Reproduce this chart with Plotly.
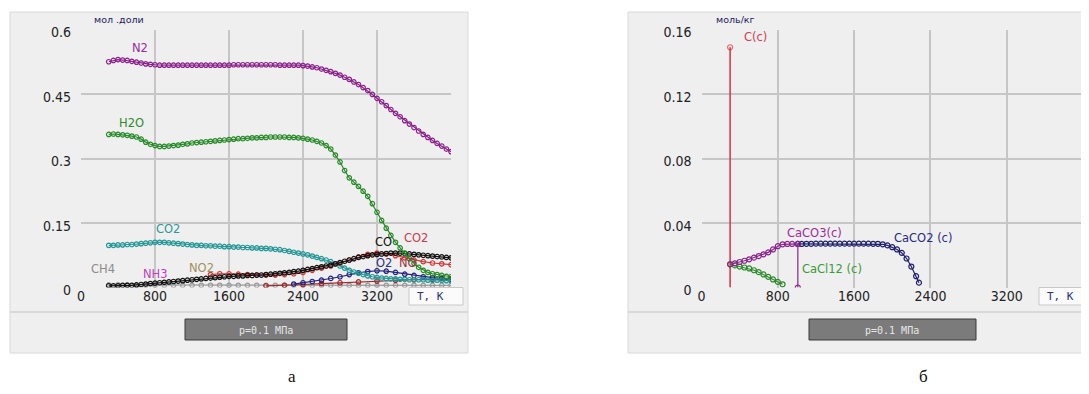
import plotly.graph_objects as go

W, H = 1089, 394
# the page body adds an 8px offset; layout coordinates below are given in
# screen pixels and converted with this offset
OX, OY = 8, 8

# ---------------- data: left chart (mole fractions) ----------------
T_fine = [300, 350, 400, 450, 500, 550, 600, 650, 700, 750, 800, 850, 900, 950, 1000,
          1050, 1100, 1150, 1200, 1250, 1300, 1350, 1400, 1450, 1500, 1550, 1600, 1650,
          1700, 1750, 1800, 1850, 1900, 1950, 2000, 2050, 2100, 2150, 2200, 2250, 2300,
          2350, 2400, 2450, 2500, 2550, 2600, 2650, 2700, 2750, 2800, 2850, 2900, 2950,
          3000, 3050, 3100, 3150, 3200, 3250, 3300, 3350, 3400, 3450, 3500, 3550, 3600,
          3650, 3700, 3750, 3800, 3850, 3900, 3950, 4000]

N2 = [0.525, 0.528, 0.530, 0.529, 0.528, 0.526, 0.524, 0.522, 0.520, 0.519, 0.518, 0.517,
      0.517, 0.517, 0.517, 0.517, 0.517, 0.517, 0.517, 0.517, 0.517, 0.517, 0.517, 0.517,
      0.517, 0.517, 0.517, 0.518, 0.518, 0.518, 0.518, 0.518, 0.518, 0.518, 0.518, 0.518,
      0.518, 0.517, 0.517, 0.517, 0.517, 0.517, 0.516, 0.515, 0.513, 0.511, 0.508, 0.505,
      0.502, 0.498, 0.494, 0.489, 0.484, 0.478, 0.472, 0.465, 0.458, 0.449, 0.440, 0.432,
      0.423, 0.414, 0.405, 0.397, 0.388, 0.380, 0.372, 0.364, 0.356, 0.349, 0.342, 0.335,
      0.329, 0.322, 0.316]

H2O = [0.356, 0.357, 0.356, 0.355, 0.354, 0.352, 0.350, 0.345, 0.338, 0.333, 0.330, 0.328,
       0.328, 0.329, 0.330, 0.331, 0.333, 0.334, 0.336, 0.337, 0.338, 0.339, 0.340, 0.341,
       0.342, 0.343, 0.344, 0.345, 0.346, 0.346, 0.347, 0.348, 0.348, 0.349, 0.349, 0.350,
       0.350, 0.350, 0.350, 0.349, 0.349, 0.348, 0.347, 0.345, 0.343, 0.340, 0.336, 0.330,
       0.322, 0.308, 0.292, 0.272, 0.255, 0.245, 0.235, 0.224, 0.212, 0.195, 0.175, 0.156,
       0.138, 0.121, 0.105, 0.092, 0.080, 0.067, 0.056, 0.047, 0.040, 0.035, 0.032, 0.030,
       0.028, 0.026, 0.025]

CO2 = [0.098, 0.098, 0.099, 0.099, 0.100, 0.100, 0.101, 0.102, 0.103, 0.104, 0.105, 0.105,
       0.105, 0.104, 0.103, 0.102, 0.101, 0.100, 0.099, 0.098, 0.098, 0.097, 0.097, 0.096,
       0.096, 0.095, 0.095, 0.094, 0.094, 0.093, 0.093, 0.092, 0.092, 0.091, 0.091, 0.090,
       0.089, 0.088, 0.086, 0.084, 0.082, 0.080, 0.078, 0.076, 0.073, 0.070, 0.067, 0.064,
       0.060, 0.055, 0.050, 0.045, 0.040, 0.036, 0.033, 0.030, 0.027, 0.025, 0.023, 0.022,
       0.021, 0.020, 0.020, 0.019, 0.019, 0.018, 0.018, 0.018, 0.018, 0.017, 0.017, 0.017,
       0.017, 0.016, 0.016]

CO = [0.004, 0.004, 0.004, 0.005, 0.005, 0.005, 0.006, 0.007, 0.008, 0.009, 0.010, 0.011,
      0.012, 0.013, 0.014, 0.015, 0.016, 0.017, 0.018, 0.019, 0.020, 0.021, 0.022, 0.023,
      0.024, 0.025, 0.026, 0.026, 0.027, 0.027, 0.028, 0.028, 0.029, 0.029, 0.030, 0.031,
      0.032, 0.033, 0.034, 0.035, 0.037, 0.038, 0.040, 0.042, 0.044, 0.046, 0.048, 0.050,
      0.052, 0.055, 0.058, 0.061, 0.064, 0.067, 0.070, 0.072, 0.074, 0.076, 0.077, 0.078,
      0.079, 0.080, 0.080, 0.080, 0.079, 0.078, 0.077, 0.076, 0.075, 0.074, 0.073, 0.072,
      0.071, 0.070, 0.069]

T_full = [300, 400, 500, 600, 700, 800, 900, 1000, 1100, 1200, 1300, 1400, 1500, 1600,
          1700, 1800, 1900, 2000, 2100, 2200, 2300, 2400, 2500, 2600, 2700, 2800, 2900,
          3000, 3100, 3200, 3300, 3400, 3500, 3600, 3700, 3800, 3900, 4000]

CH4 = [0.006, 0.006, 0.006, 0.005, 0.005, 0.005, 0.005, 0.005, 0.005, 0.005, 0.005, 0.005,
       0.005, 0.005, 0.005, 0.005, 0.005, 0.005, 0.005, 0.005, 0.005, 0.005, 0.005, 0.005,
       0.005, 0.005, 0.005, 0.005, 0.005, 0.005, 0.005, 0.005, 0.005, 0.005, 0.005, 0.005,
       0.005, 0.005]

T_red = [1400, 1500, 1600, 1700, 1800, 1900, 2000, 2100, 2200, 2300, 2400, 2500, 2600,
         2700, 2800, 2900, 3000, 3100, 3200, 3300, 3400, 3500, 3600, 3700, 3800, 3900, 4000]
CO2_red = [0.030, 0.032, 0.032, 0.031, 0.030, 0.029, 0.029, 0.029, 0.030, 0.032, 0.035,
           0.040, 0.045, 0.050, 0.057, 0.064, 0.071, 0.077, 0.080, 0.078, 0.074, 0.069,
           0.064, 0.060, 0.057, 0.055, 0.053]

T_o2 = [2300, 2400, 2500, 2600, 2700, 2800, 2900, 3000, 3100, 3200, 3300, 3400, 3500,
        3600, 3700, 3800, 3900, 4000]
O2 = [0.008, 0.011, 0.014, 0.017, 0.021, 0.025, 0.030, 0.034, 0.037, 0.039, 0.038, 0.035,
      0.031, 0.028, 0.025, 0.023, 0.021, 0.020]

T_no = [2000, 2200, 2400, 2600, 2800, 3000, 3200, 3400, 3600, 3800, 4000]
NO = [0.004, 0.005, 0.007, 0.009, 0.011, 0.013, 0.015, 0.017, 0.018, 0.019, 0.019]

left_labels = ["N2", "H2O", "CO2", "CH4", "NH3", "NO2", "CO", "CO2", "O2", "NO"]
left_label_T = [640, 550, 940, 240, 800, 1300, 3275, 3620, 3275, 3535]
left_label_v = [0.557, 0.383, 0.136, 0.043, 0.031, 0.045, 0.106, 0.115, 0.057, 0.057]
left_label_colors = ["#9a2c9a", "#2e8a2e", "#2e9898", "#8c8c8c", "#c040c0", "#a09060",
                     "#111111", "#c04050", "#303080", "#a03040"]

# ---------------- data: right chart (mol/kg) ----------------
T_C = [300, 300]
C_c = [0.149, 0.0]

T_caco3 = [300, 350, 400, 450, 500, 550, 600, 650, 700, 750, 800, 850, 900, 950, 1010, 1010]
CaCO3 = [0.0144, 0.0150, 0.0158, 0.0166, 0.0175, 0.0185, 0.0195, 0.0206, 0.0218, 0.0236,
         0.0256, 0.0268, 0.0270, 0.0270, 0.0270, 0.0]

T_cacl2 = [300, 350, 400, 450, 500, 550, 600, 650, 700, 750, 800, 850]
CaCl2 = [0.0144, 0.0137, 0.0130, 0.0124, 0.0118, 0.0107, 0.0095, 0.0081, 0.0066, 0.0050,
         0.0035, 0.0020]

T_caco2 = [1010, 1050, 1100, 1150, 1200, 1250, 1300, 1350, 1400, 1450, 1500, 1550, 1600,
           1650, 1700, 1750, 1800, 1850, 1900, 1950, 2000, 2050, 2100, 2150, 2200, 2250, 2280]
CaCO2 = [0.0270, 0.0270, 0.0271, 0.0271, 0.0272, 0.0272, 0.0272, 0.0272, 0.0272, 0.0272,
         0.0272, 0.0272, 0.0272, 0.0272, 0.0272, 0.0272, 0.0271, 0.0271, 0.0268, 0.0261,
         0.0250, 0.0236, 0.0215, 0.0180, 0.0130, 0.0070, 0.0030]

right_labels = ["C(c)", "CaCO3(c)", "CaCl12 (c)", "CaCO2 (c)"]
right_label_T = [570, 1180, 1030, 2320]
right_label_v = [0.1555, 0.034, 0.0115, 0.0306]
right_label_anchor = ["center", "center", "left", "center"]
right_label_colors = ["#d04050", "#9a2c9a", "#3a9a3a", "#2a2a7a"]

xticks = [0, 800, 1600, 2400, 3200]
yticks_left = [0, 0.15, 0.3, 0.45, 0.6]
yticks_right = [0, 0.04, 0.08, 0.12, 0.16]


def px(x):
    return (x - OX) / W


def py(y):
    return 1 - (y - OY) / H


fig = go.Figure()


def add_series(T, v, color, xa, ya, msize=4.5):
    fig.add_trace(go.Scatter(
        x=T, y=v, mode="lines+markers", xaxis=xa, yaxis=ya,
        line=dict(color=color, width=1.2),
        marker=dict(symbol="circle-open", size=msize, color=color,
                    line=dict(width=1.2, color=color)),
        showlegend=False, hoverinfo="skip"))


# left chart traces
add_series(T_full, CH4, "#9a9a9a", "x", "y")
add_series(T_no, NO, "#a02828", "x", "y")
add_series(T_o2, O2, "#23237e", "x", "y")
add_series(T_fine, CO2, "#239696", "x", "y")
add_series(T_red, CO2_red, "#d03838", "x", "y")
add_series(T_fine, CO, "#111111", "x", "y")
add_series(T_fine, H2O, "#268a26", "x", "y")
add_series(T_fine, N2, "#8a1f8a", "x", "y")

# right chart traces
fig.add_trace(go.Scatter(x=T_C, y=C_c, mode="lines+markers", xaxis="x2", yaxis="y2",
                         line=dict(color="#d83040", width=1.5),
                         marker=dict(symbol="circle-open", size=[5, 0], color="#d83040",
                                     line=dict(width=1.2, color="#d83040")),
                         showlegend=False, hoverinfo="skip"))
add_series(T_cacl2, CaCl2, "#2a8a2a", "x2", "y2", 5)
add_series(T_caco2, CaCO2, "#1e1e6e", "x2", "y2", 5)
add_series(T_caco3, CaCO3, "#8a248a", "x2", "y2", 5)

tickfont = dict(family="Liberation Sans Narrow, DejaVu Sans Condensed, Liberation Sans",
                size=14, color="#222222")

common_x = dict(range=[0, 4000], tickvals=xticks, ticktext=[str(t) for t in xticks],
                showgrid=True, gridcolor="#c6c6c6", gridwidth=1.5, zeroline=False,
                showline=False, ticks="", ticklabelstandoff=-2,
                tickfont=tickfont, fixedrange=True, automargin=False)
common_y = dict(showgrid=True, gridcolor="#c6c6c6", gridwidth=1.5, zeroline=False,
                showline=False, ticks="", ticklabelstandoff=9, ticklabelshift=3,
                tickfont=tickfont, fixedrange=True, automargin=False)

ydom = [py(287.5), py(29.5)]

fig.update_layout(
    template="none",
    width=W, height=H, autosize=False,
    margin=dict(l=0, r=0, t=0, b=0, pad=0, autoexpand=False),
    paper_bgcolor="white", plot_bgcolor="#dedede",
    xaxis=dict(domain=[px(81), px(451)], anchor="y", **common_x),
    yaxis=dict(domain=ydom, anchor="x", range=[0, 0.6], tickvals=yticks_left,
               ticktext=["0", "0.15", "0.3", "0.45", "0.6"], **common_y),
    xaxis2=dict(domain=[px(701.5), px(1083)], anchor="y2", **common_x),
    yaxis2=dict(domain=ydom, anchor="x2", range=[0, 0.16], tickvals=yticks_right,
                ticktext=["0", "0.04", "0.08", "0.12", "0.16"], **common_y),
    showlegend=False,
)

shapes = []
# outer panels
for (x0, x1) in [(10, 468), (628, 1088)]:
    shapes.append(dict(type="rect", xref="paper", yref="paper", x0=px(x0), x1=px(x1),
                       y0=py(353), y1=py(12), fillcolor="#efefef",
                       line=dict(color="#d9d9d9", width=1), layer="below"))
    shapes.append(dict(type="line", xref="paper", yref="paper", x0=px(x0), x1=px(x1),
                       y0=py(312), y1=py(312), line=dict(color="#d2d2d2", width=1.5),
                       layer="below"))

# pressure boxes and T,K boxes
for (x0, x1) in [(185, 347), (809, 976)]:
    shapes.append(dict(type="rect", xref="paper", yref="paper", x0=px(x0), x1=px(x1),
                       y0=py(340), y1=py(319), fillcolor="#7b7b7b",
                       line=dict(color="#3a3a3a", width=1), layer="above"))
for (x0, x1) in [(409, 463), (1039, 1088)]:
    shapes.append(dict(type="rect", xref="paper", yref="paper", x0=px(x0), x1=px(x1),
                       y0=py(305), y1=py(287.5), fillcolor="#fbfbfb",
                       line=dict(color="#c8c8c8", width=1), layer="above"))

annotations = []
lblfont = "DejaVu Sans, Verdana, sans-serif"
for txt, t, v, c in zip(left_labels, left_label_T, left_label_v, left_label_colors):
    annotations.append(dict(x=t, y=v, xref="x", yref="y", text=txt, showarrow=False,
                            xanchor="center", yanchor="middle",
                            font=dict(family=lblfont, size=11.5, color=c)))
for txt, t, v, a, c in zip(right_labels, right_label_T, right_label_v, right_label_anchor,
                           right_label_colors):
    annotations.append(dict(x=t, y=v, xref="x2", yref="y2", text=txt, showarrow=False,
                            xanchor=a, yanchor="middle",
                            font=dict(family=lblfont, size=11.5, color=c)))


def paper_text(x, y, text, font, xanchor="center"):
    annotations.append(dict(x=px(x), y=py(y), xref="paper", yref="paper", text=text,
                            showarrow=False, xanchor=xanchor, yanchor="middle", font=font))


# unit labels
paper_text(92, 20, "мол .доли", dict(family="DejaVu Sans", size=9.5, color="#1c1c5c"), "left")
paper_text(714, 20, "моль/кг", dict(family="DejaVu Sans", size=9.5, color="#1c1c5c"), "left")
# T, K
for x in [415, 1045]:
    paper_text(x, 296, "T, K", dict(family="DejaVu Sans Mono", size=11, color="#303070"), "left")
# pressure
for x in [266, 892]:
    paper_text(x, 330, "p=0.1 МПа", dict(family="DejaVu Sans Mono", size=10, color="#e6e6e6"))
# captions
paper_text(292, 376, "а", dict(family="Liberation Serif", size=17, color="#111111"))
paper_text(923, 376, "б", dict(family="Liberation Serif", size=17, color="#111111"))

fig.update_layout(shapes=shapes, annotations=annotations)

fig.write_html("out.html")
